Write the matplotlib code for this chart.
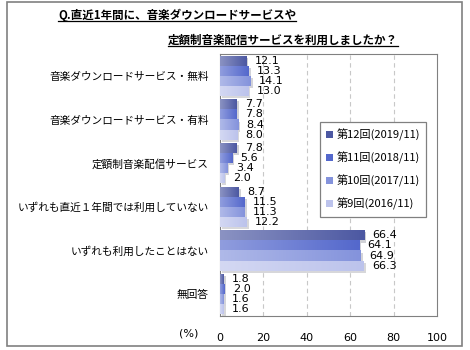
import numpy as np
import matplotlib
matplotlib.use('Agg')
import matplotlib.pyplot as plt
import matplotlib.patheffects as pe
from matplotlib.colors import to_rgb
from matplotlib.lines import Line2D
from matplotlib.patches import Rectangle

plt.rcParams['font.family'] = ['Noto Sans CJK JP', 'DejaVu Sans']

categories = ['音楽ダウンロードサービス・無料', '音楽ダウンロードサービス・有料', '定額制音楽配信サービス',
              'いずれも直近１年間では利用していない', 'いずれも利用したことはない', '無回答']
series = ['第12回(2019/11)', '第11回(2018/11)', '第10回(2017/11)', '第9回(2016/11)']
r12 = [12.1, 7.7, 7.8, 8.7, 66.4, 1.8]
r11 = [13.3, 7.8, 5.6, 11.5, 64.1, 2.0]
r10 = [14.1, 8.4, 3.4, 11.3, 64.9, 1.6]
r9 = [13.0, 8.0, 2.0, 12.2, 66.3, 1.6]
colors = ['#4c58a2', '#5468cc', '#8493dc', '#bcc3ec']

def lighten(c, amount):
  r, g, b = to_rgb(c)
  return (r + (1 - r) * amount, g + (1 - g) * amount, b + (1 - b) * amount)

def drawBars(ax, values, offset, height, color, label):
  y = np.arange(len(values)) + offset
  bars = ax.barh(y, values, height=height, color=color, label=label, zorder=3,
                 path_effects=[pe.SimplePatchShadow(offset=(1.5, -1.5), alpha=0.2), pe.Normal()])
  grad = np.linspace(0, 1, 64).reshape(1, -1)
  c0 = np.array(lighten(color, 0.35))
  c1 = np.array(to_rgb(color))
  img = c0[None, None, :] * (1 - grad[..., None]) + c1[None, None, :] * grad[..., None]
  for bar, v in zip(bars, values):
    x0, y0 = bar.get_x(), bar.get_y()
    im = ax.imshow(img, extent=(x0, x0 + bar.get_width(), y0 + bar.get_height(), y0),
                   aspect='auto', zorder=4, interpolation='bilinear')
    im.set_clip_path(bar)
    ax.annotate(f'{v:.1f}', (v, y0 + bar.get_height() / 2), xytext=(6, 0),
                textcoords='offset points', va='center', ha='left', fontsize=8,
                family=['DejaVu Sans'], color='#000000', zorder=5)

def main():
  fig = plt.figure(figsize=(4.7, 3.5), dpi=100)
  ax = fig.add_axes([220 / 470, 1 - 316 / 350, 217 / 470, 262 / 350])

  h = 0.23
  allData = [r12, r11, r10, r9]
  for i, (vals, c, lab) in enumerate(zip(allData, colors, series)):
    drawBars(ax, vals, (i - 1.5) * h, h, c, lab)

  ax.set_xlim(0, 100)
  ax.set_ylim(len(categories) - 0.5, -0.5)
  ax.set_xticks([0, 20, 40, 60, 80, 100])
  ax.set_yticks(range(len(categories)))
  ax.set_yticklabels(categories, fontsize=7.7)
  ax.tick_params(axis='both', length=0)
  ax.tick_params(axis='x', pad=12, labelsize=8)
  ax.tick_params(axis='y', pad=8)
  for lbl in ax.get_xticklabels():
    lbl.set_family(['DejaVu Sans'])
  for s in ax.spines.values():
    s.set_color('#808080')
  for g in [20, 40, 60, 80]:
    ax.axvline(g, color='#c8c8c8', linestyle=(0, (4, 3)), linewidth=0.8, zorder=1)

  leg = ax.legend(loc='upper left', bbox_to_anchor=(0.433, 0.76), fontsize=8,
                  fancybox=False, edgecolor='#808080', framealpha=1,
                  handlelength=0.6, handleheight=0.6, handletextpad=0.3,
                  labelspacing=0.95, borderpad=0.6)
  leg.get_frame().set_linewidth(0.9)
  for hnd in leg.legend_handles:
    hnd.set_path_effects([])

  fig.text(189 / 470, 1 - 334 / 350, '(%)', fontsize=8, ha='center', va='center',
           family=['DejaVu Sans'])

  t1 = fig.text(58 / 470, 1 - 15 / 350, 'Q.直近1年間に、音楽ダウンロードサービスや',
                fontsize=8.3, fontweight='bold', ha='left', va='center')
  t2 = fig.text(168 / 470, 1 - 40 / 350, '定額制音楽配信サービスを利用しましたか？',
                fontsize=8.3, fontweight='bold', ha='left', va='center')

  fig.canvas.draw()
  r = fig.canvas.get_renderer()
  for t in [t1, t2]:
    bb = t.get_window_extent(r).transformed(fig.transFigure.inverted())
    fig.add_artist(Line2D([bb.x0, bb.x1], [bb.y0 + 0.002, bb.y0 + 0.002],
                          transform=fig.transFigure, color='black', linewidth=0.9))

  fig.add_artist(Rectangle((7 / 470, 1 - 346 / 350), 455 / 470, 344 / 350,
                           transform=fig.transFigure, fill=False,
                           edgecolor='#808080', linewidth=1.2))

  fig.savefig('out.png', dpi=100)

if __name__ == "__main__":
  main()
